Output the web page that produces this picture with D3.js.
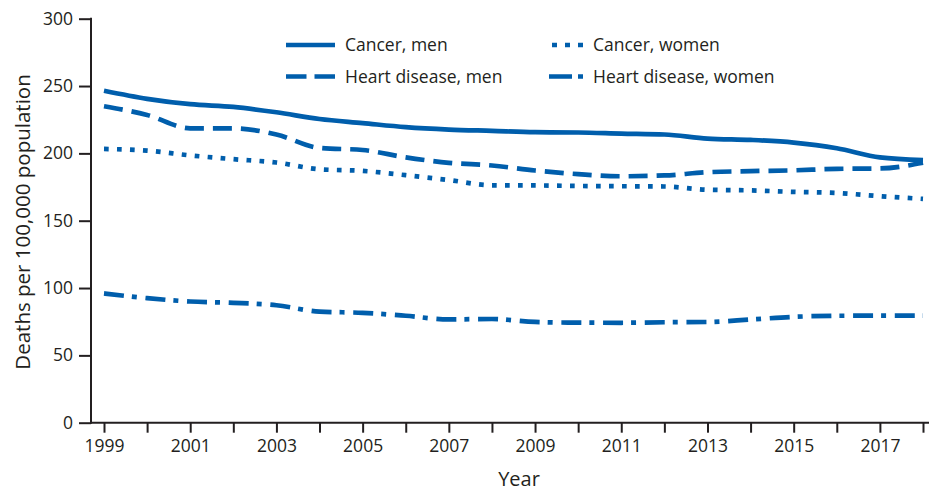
<!DOCTYPE html>
<html>
<head>
<meta charset="utf-8">
<script src="https://cdn.jsdelivr.net/npm/d3@7"></script>
<style>
  html, body { margin: 0; padding: 0; background: #fff; }
  svg { display: block; font-family: "Open Sans", sans-serif; }
</style>
</head>
<body>
<svg id="chart" width="930" height="493"></svg>
<script>
const years = [1999,2000,2001,2002,2003,2004,2005,2006,2007,2008,2009,2010,2011,2012,2013,2014,2015,2016,2017,2018];
const cancerMen    = [246.5,240.5,236.5,234.5,230.5,225.5,222.5,219.5,217.7,216.7,215.7,215.5,214.7,214.0,211.0,210.0,208.0,203.8,197.0,195.0];
const heartMen     = [235.0,228.5,218.6,218.6,214.0,204.0,202.5,197.0,193.0,191.0,187.3,184.6,183.0,183.6,186.0,186.8,187.4,188.5,188.8,193.0];
const cancerWomen  = [203.3,202.0,198.5,195.7,193.2,188.2,187.0,183.8,180.2,176.3,176.2,175.8,175.6,175.4,173.0,172.5,171.4,170.6,168.2,166.2];
const heartWomen   = [96.0,92.5,90.0,89.0,87.2,82.5,81.6,79.4,76.7,77.0,74.8,74.3,74.2,74.6,74.8,76.6,78.6,79.4,79.5,79.5];
const seriesNames  = ["Cancer, men","Cancer, women","Heart disease, men","Heart disease, women"];
const yTicks = [0,50,100,150,200,250,300];
const xTickLabels = [1999,2001,2003,2005,2007,2009,2011,2013,2015,2017];

const color = "#005eac";
const ink = "#231f20";
const dashes = {
  "Cancer, men": null,
  "Cancer, women": "4.7 8.3",
  "Heart disease, men": "19 9",
  "Heart disease, women": "20 8 5 8.7"
};
const seriesData = {
  "Cancer, men": cancerMen,
  "Cancer, women": cancerWomen,
  "Heart disease, men": heartMen,
  "Heart disease, women": heartWomen
};

const svg = d3.select("#chart");
const x = d3.scaleLinear().domain([1999, 2018]).range([104, 923]);
const y = d3.scaleLinear().domain([0, 300]).range([422.7, 18.7]);
const axisLeftX = 91;

// Y axis
const yAxis = svg.append("g").attr("transform", `translate(${axisLeftX},0)`)
  .call(d3.axisLeft(y).tickValues(yTicks).tickSize(12).tickPadding(6).tickSizeOuter(0));
yAxis.select(".domain").remove();
yAxis.append("line").attr("x1", 0).attr("x2", 0).attr("y1", y(300) - 1).attr("y2", y(0) + 1)
  .attr("stroke", ink).attr("stroke-width", 2);
yAxis.selectAll(".tick line").attr("stroke", ink).attr("stroke-width", 2);
yAxis.selectAll(".tick text").attr("fill", ink).style("font-size", "17.5px")
  .style("font-family", "'Open Sans', sans-serif");

// X axis
const xAxis = svg.append("g").attr("transform", `translate(0,${y(0)})`)
  .call(d3.axisBottom(x).tickValues(years).tickSize(10).tickPadding(7).tickSizeOuter(0)
    .tickFormat(d => xTickLabels.includes(d) ? String(d) : ""));
xAxis.select(".domain").remove();
xAxis.append("line").attr("x1", axisLeftX - 1).attr("x2", 929).attr("y1", 0).attr("y2", 0)
  .attr("stroke", ink).attr("stroke-width", 2);
xAxis.selectAll(".tick line").attr("stroke", ink).attr("stroke-width", 2);
xAxis.selectAll(".tick text").attr("fill", ink).style("font-size", "17.5px")
  .style("font-family", "'Open Sans', sans-serif");

// Axis titles
svg.append("text").attr("x", 519).attr("y", 486).attr("text-anchor", "middle")
  .attr("fill", ink).style("font-size", "20px").text("Year");
svg.append("text").attr("transform", "translate(30,222) rotate(-90)").attr("text-anchor", "middle")
  .attr("fill", ink).style("font-size", "20.5px").text("Deaths per 100,000 population");

// Lines
const line = d3.line().x((d, i) => x(years[i])).y(d => y(d)).curve(d3.curveMonotoneX);
const drawOrder = ["Heart disease, women","Cancer, women","Heart disease, men","Cancer, men"];
drawOrder.forEach(name => {
  svg.append("path").datum(seriesData[name])
    .attr("d", line)
    .attr("fill", "none")
    .attr("stroke", color)
    .attr("stroke-width", 4.7)
    .attr("stroke-linejoin", "round")
    .attr("stroke-dasharray", dashes[name]);
});

// Legend
const legendItems = [
  {name: "Cancer, men", lx: 286, ly: 45, len: 49},
  {name: "Heart disease, men", lx: 286, ly: 76.5, len: 49},
  {name: "Cancer, women", lx: 552, ly: 45, len: 31},
  {name: "Heart disease, women", lx: 549, ly: 76.5, len: 34}
];
const legendDash = {
  "Cancer, men": null,
  "Cancer, women": "5 8",
  "Heart disease, men": "20.5 8",
  "Heart disease, women": "23 6 5 10"
};
const lg = svg.append("g");
legendItems.forEach(it => {
  lg.append("line").attr("x1", it.lx).attr("x2", it.lx + it.len)
    .attr("y1", it.ly).attr("y2", it.ly)
    .attr("stroke", color).attr("stroke-width", 4.7)
    .attr("stroke-dasharray", legendDash[it.name]);
  lg.append("text").attr("x", it.lx < 400 ? 345 : 593).attr("y", it.ly + 6.3)
    .attr("fill", ink).style("font-size", "17.5px").text(it.name);
});
</script>
</body>
</html>
